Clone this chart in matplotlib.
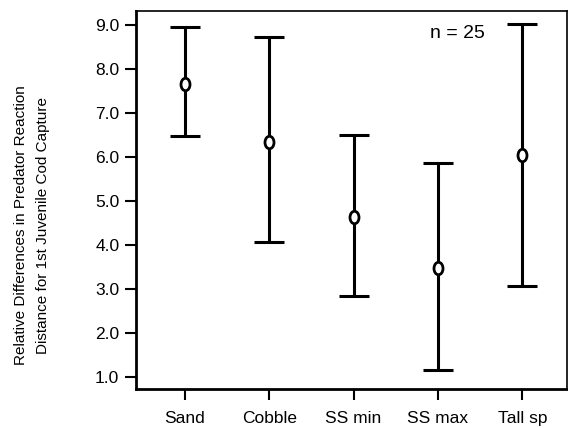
import numpy as np
import matplotlib.pyplot as plt
from matplotlib.path import Path

habitats = ["Sand", "Cobble", "SS min", "SS max", "Tall sp"]
means = [7.66, 6.34, 4.64, 3.47, 6.04]
upper = [8.95, 8.72, 6.50, 5.86, 9.02]
lower = [6.47, 4.08, 2.84, 1.16, 3.08]

x = list(range(1, len(habitats) + 1))
err_lo = [m - lo for m, lo in zip(means, lower)]
err_hi = [hi - m for m, hi in zip(means, upper)]

plt.rcParams['font.family'] = ['Liberation Sans', 'DejaVu Sans']

# slightly tall oval marker like the scanned figure
circ = Path.unit_circle()
oval = Path(circ.vertices * np.array([0.72, 1.0]), circ.codes)

fig = plt.figure(figsize=(5.68, 4.28), dpi=100)
ax = fig.add_axes([136 / 568, 1 - 389 / 428, 431 / 568, 378 / 428])

ax.errorbar(x, means, yerr=[err_lo, err_hi], fmt='none', ecolor='black',
            elinewidth=2.2, capsize=11, capthick=2.2)
ax.plot(x, means, linestyle='none', marker=oval, markersize=9,
        markerfacecolor='white', markeredgecolor='black', markeredgewidth=2, zorder=5)

ax.set_xlim(0.42, 5.53)
ax.set_ylim(0.73, 9.32)
ax.set_yticks([1, 2, 3, 4, 5, 6, 7, 8, 9])
ax.set_yticklabels([f"{v:.1f}" for v in range(1, 10)], fontsize=12.5)
ax.set_xticks(x)
ax.set_xticklabels(habitats, fontsize=12.5)
ax.tick_params(axis='both', direction='out', length=8, width=1.5, color='black')
ax.tick_params(axis='y', pad=4)
ax.tick_params(axis='x', pad=8)

for side in ['left', 'bottom']:
    ax.spines[side].set_linewidth(2)
for side in ['top', 'right']:
    ax.spines[side].set_linewidth(1.2)

fig.text(32 / 568, 1 - 225 / 428,
         "Relative Differences in Predator Reaction\nDistance for 1st Juvenile Cod Capture",
         rotation=90, fontsize=11, ha='center', va='center', linespacing=1.65)

ax.text(0.745, 0.94, "n = 25", transform=ax.transAxes, fontsize=14,
        ha='center', va='center')

fig.savefig("out.png", dpi=100)
